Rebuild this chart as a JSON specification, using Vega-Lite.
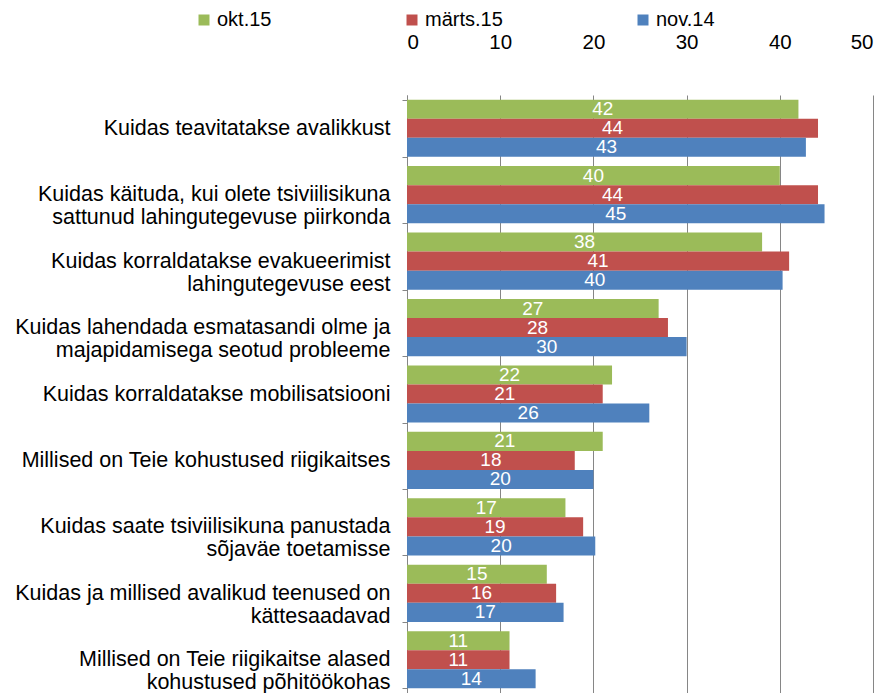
{
  "$schema": "https://vega.github.io/schema/vega-lite/v6.json",
  "width": 466,
  "height": 598,
  "autosize": {"type": "none"},
  "padding": {"left": 407, "top": 95, "right": 16, "bottom": 0},
  "background": "white",
  "config": {
    "font": "Liberation Sans",
    "view": {"stroke": null}
  },
  "data": {
    "values": [
      {"cat": "Kuidas teavitatakse avalikkust", "series": "okt.15", "value": 42.0},
      {"cat": "Kuidas teavitatakse avalikkust", "series": "märts.15", "value": 44.1},
      {"cat": "Kuidas teavitatakse avalikkust", "series": "nov.14", "value": 42.8},
      {"cat": "Kuidas käituda, kui olete tsiviilisikuna|sattunud lahingutegevuse piirkonda", "series": "okt.15", "value": 40.0},
      {"cat": "Kuidas käituda, kui olete tsiviilisikuna|sattunud lahingutegevuse piirkonda", "series": "märts.15", "value": 44.1},
      {"cat": "Kuidas käituda, kui olete tsiviilisikuna|sattunud lahingutegevuse piirkonda", "series": "nov.14", "value": 44.8},
      {"cat": "Kuidas korraldatakse evakueerimist|lahingutegevuse eest", "series": "okt.15", "value": 38.1},
      {"cat": "Kuidas korraldatakse evakueerimist|lahingutegevuse eest", "series": "märts.15", "value": 41.0},
      {"cat": "Kuidas korraldatakse evakueerimist|lahingutegevuse eest", "series": "nov.14", "value": 40.3},
      {"cat": "Kuidas lahendada esmatasandi olme ja|majapidamisega seotud probleeme", "series": "okt.15", "value": 27.0},
      {"cat": "Kuidas lahendada esmatasandi olme ja|majapidamisega seotud probleeme", "series": "märts.15", "value": 28.0},
      {"cat": "Kuidas lahendada esmatasandi olme ja|majapidamisega seotud probleeme", "series": "nov.14", "value": 30.0},
      {"cat": "Kuidas korraldatakse mobilisatsiooni", "series": "okt.15", "value": 22.0},
      {"cat": "Kuidas korraldatakse mobilisatsiooni", "series": "märts.15", "value": 21.0},
      {"cat": "Kuidas korraldatakse mobilisatsiooni", "series": "nov.14", "value": 26.0},
      {"cat": "Millised on Teie kohustused riigikaitses", "series": "okt.15", "value": 21.0},
      {"cat": "Millised on Teie kohustused riigikaitses", "series": "märts.15", "value": 18.0},
      {"cat": "Millised on Teie kohustused riigikaitses", "series": "nov.14", "value": 20.0},
      {"cat": "Kuidas saate tsiviilisikuna panustada|sõjaväe toetamisse", "series": "okt.15", "value": 17.0},
      {"cat": "Kuidas saate tsiviilisikuna panustada|sõjaväe toetamisse", "series": "märts.15", "value": 18.9},
      {"cat": "Kuidas saate tsiviilisikuna panustada|sõjaväe toetamisse", "series": "nov.14", "value": 20.2},
      {"cat": "Kuidas ja millised avalikud teenused on|kättesaadavad", "series": "okt.15", "value": 15.0},
      {"cat": "Kuidas ja millised avalikud teenused on|kättesaadavad", "series": "märts.15", "value": 16.0},
      {"cat": "Kuidas ja millised avalikud teenused on|kättesaadavad", "series": "nov.14", "value": 16.8},
      {"cat": "Millised on Teie riigikaitse alased|kohustused põhitöökohas", "series": "okt.15", "value": 11.0},
      {"cat": "Millised on Teie riigikaitse alased|kohustused põhitöökohas", "series": "märts.15", "value": 11.0},
      {"cat": "Millised on Teie riigikaitse alased|kohustused põhitöökohas", "series": "nov.14", "value": 13.8}
    ]
  },
  "encoding": {
    "y": {
      "field": "cat",
      "type": "nominal",
      "sort": null,
      "scale": {"paddingInner": 0.14, "paddingOuter": 0.07},
      "axis": {
        "title": null,
        "orient": "left",
        "labelExpr": "split(datum.label, '|')",
        "labelFontSize": 21.5,
        "labelColor": "#000000",
        "labelLimit": 0,
        "labelLineHeight": 23,
        "labelPadding": 12,
        "tickBand": "extent",
        "tickSize": 5,
        "tickColor": "#868686",
        "domainColor": "#868686",
        "grid": false
      }
    },
    "yOffset": {
      "field": "series",
      "type": "nominal",
      "sort": ["okt.15", "märts.15", "nov.14"],
      "scale": {"paddingInner": 0, "paddingOuter": 0}
    }
  },
  "layer": [
    {
      "mark": {"type": "bar"},
      "encoding": {
        "x": {
          "field": "value",
          "type": "quantitative",
          "scale": {"domain": [0, 50], "nice": false},
          "axis": {
            "title": null,
            "orient": "top",
            "values": [0, 10, 20, 30, 40, 50],
            "ticks": false,
            "domain": false,
            "grid": true,
            "gridColor": "#868686",
            "labelFontSize": 20.5,
            "labelColor": "#000000",
            "labelPadding": 43
          }
        },
        "color": {
          "field": "series",
          "type": "nominal",
          "sort": ["okt.15", "märts.15", "nov.14"],
          "scale": {"domain": ["okt.15", "märts.15", "nov.14"], "range": ["#9BBB59", "#C0504D", "#4F81BD"]},
          "legend": {
            "title": null,
            "orient": "none",
            "direction": "horizontal",
            "legendX": -213,
            "legendY": -85,
            "symbolType": "square",
            "symbolSize": 121,
            "symbolStrokeWidth": 0,
            "labelFontSize": 20,
            "labelColor": "#000000",
            "labelOffset": 3,
            "columnPadding": 130
          }
        }
      }
    },
    {
      "mark": {"type": "text", "color": "white", "fontSize": 19, "baseline": "middle", "align": "center"},
      "encoding": {
        "x": {
          "field": "value",
          "type": "quantitative",
          "scale": {"domain": [0, 100], "nice": false},
          "axis": null
        },
        "text": {"field": "value", "type": "quantitative", "format": ".0f"}
      }
    }
  ],
  "resolve": {"scale": {"x": "independent"}}
}
